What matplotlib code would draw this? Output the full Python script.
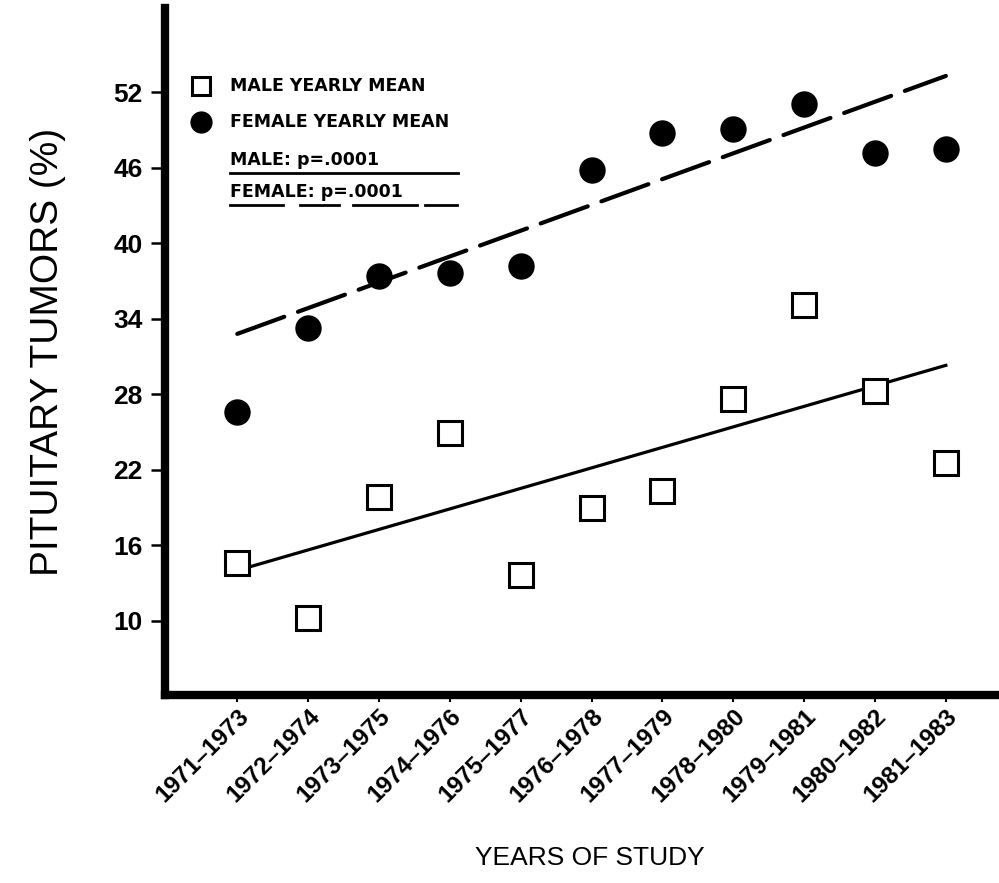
import matplotlib
matplotlib.use("Agg")
import matplotlib.pyplot as plt
from matplotlib.lines import Line2D

# yearly means, %, per study window
periods = ["1971–1973", "1972–1974", "1973–1975", "1974–1976", "1975–1977",
           "1976–1978", "1977–1979", "1978–1980", "1979–1981", "1980–1982",
           "1981–1983"]
male_mean = [14.6, 10.2, 19.8, 24.9, 13.6, 19.0, 20.3, 27.6, 35.1, 28.3, 22.5]
female_mean = [26.6, 33.3, 37.4, 37.6, 38.2, 45.8, 48.8, 49.1, 51.1, 47.2, 47.5]

# regression lines, value at first and last window
male_trend = [14.0, 30.3]
female_trend = [32.8, 53.3]

y_ticks = [10, 16, 22, 28, 34, 40, 46, 52]

W, H = 999, 883
fig = plt.figure(figsize=(W / 100, H / 100), dpi=100)
ax = fig.add_axes([165 / W, 1 - 695 / H, 1 - 165 / W, (695 - 8) / H])

x = list(range(len(periods)))
ends = [x[0], x[-1]]

ax.plot(ends, female_trend, color="black", lw=3, ls=(0, (12, 3.5)),
        solid_capstyle="round", dash_capstyle="round", zorder=2)
ax.plot(ends, male_trend, color="black", lw=2.3, zorder=2)

ax.plot(x, female_mean, ls="none", marker="o", ms=18, mfc="black",
        mec="black", zorder=3)
ax.plot(x, male_mean, ls="none", marker="s", ms=17, mfc="white",
        mec="black", mew=2.2, zorder=3)

ax.set_xlim(-1.02, 10.75)
ax.set_ylim(4.1, 58.7)

for side in ("top", "right"):
    ax.spines[side].set_visible(False)
for side in ("left", "bottom"):
    ax.spines[side].set_linewidth(6)

ax.set_yticks(y_ticks)
ax.set_yticklabels([str(v) for v in y_ticks], fontsize=19,
                   fontweight="bold", family="Liberation Sans")
ax.tick_params(axis="y", length=10, width=1.8, pad=6)

ax.set_xticks(x)
ax.set_xticklabels(periods, rotation=45, ha="right", va="top",
                   rotation_mode="anchor", fontsize=17.5, fontweight="bold",
                   family="Liberation Sans")
ax.tick_params(axis="x", length=5, width=1.5, pad=2)

ax.set_ylabel("PITUITARY TUMORS (%)", fontsize=28, family="Liberation Sans",
              labelpad=34)
fig.text(590 / W, 1 - 858 / H, "YEARS OF STUDY", fontsize=19,
         family="Liberation Sans", ha="center", va="center")


def fx(px):
    return px / W


def fy(py):
    return 1 - py / H


# key in the upper left corner
key_font = dict(fontsize=12.5, fontweight="bold", family="DejaVu Sans",
                va="center", ha="left")
fig.add_artist(Line2D([fx(201)], [fy(86)], marker="s", ms=13, mfc="white",
                      mec="black", mew=2.2, ls="none"))
fig.add_artist(Line2D([fx(201)], [fy(122)], marker="o", ms=15, mfc="black",
                      mec="black", ls="none"))
fig.text(fx(230), fy(86), "MALE YEARLY MEAN", **key_font)
fig.text(fx(230), fy(122), "FEMALE YEARLY MEAN", **key_font)
fig.text(fx(230), fy(160), "MALE: p=.0001", **key_font)
fig.text(fx(230), fy(192), "FEMALE: p=.0001", **key_font)

underlines = [
    (230, 458, 173),
    (230, 283, 205),
    (300, 339, 205),
    (353, 417, 205),
    (425, 457, 205),
]
for x0, x1, yy in underlines:
    fig.add_artist(Line2D([fx(x0), fx(x1)], [fy(yy), fy(yy)],
                          color="black", lw=2))

fig.savefig("out.png", dpi=100, facecolor="white")
